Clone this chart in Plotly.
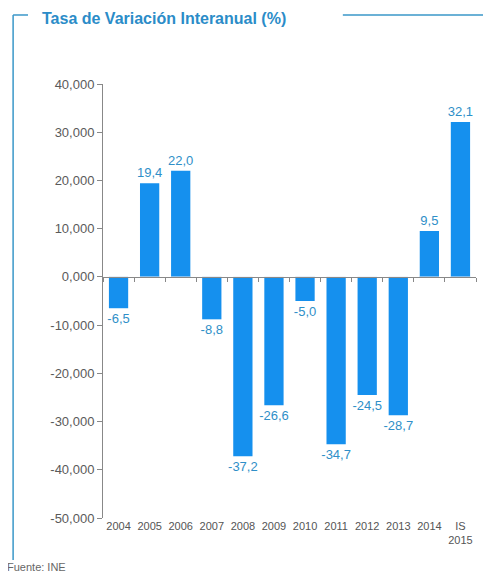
import plotly.graph_objects as go

categories = ["2004", "2005", "2006", "2007", "2008", "2009", "2010",
              "2011", "2012", "2013", "2014", "IS<br>2015"]
values = [-6.5, 19.4, 22.0, -8.8, -37.2, -26.6, -5.0, -34.7, -24.5, -28.7, 9.5, 32.1]
value_labels = ["-6,5", "19,4", "22,0", "-8,8", "-37,2", "-26,6", "-5,0",
                "-34,7", "-24,5", "-28,7", "9,5", "32,1"]
y_ticks = [40, 30, 20, 10, 0, -10, -20, -30, -40, -50]
y_tick_labels = ["40,000", "30,000", "20,000", "10,000", "0,000", "-10,000",
                 "-20,000", "-30,000", "-40,000", "-50,000"]

FONT = "Arial, Liberation Sans, sans-serif"
BAR = "#1590ee"
LABEL = "#2f8fc8"
FRAME = "#3a97c9"

fig = go.Figure()

fig.add_trace(go.Bar(
    x=categories, y=values,
    text=value_labels, textposition="outside", constraintext="none",
    textfont=dict(family=FONT, size=13, color=LABEL),
    marker=dict(color=BAR, line=dict(width=0)),
    width=0.62, cliponaxis=False, showlegend=False,
))

# invisible trace carrying the zero-line axis with boundary ticks
fig.add_trace(go.Bar(x=categories, y=[0] * len(categories), xaxis="x2",
                     showlegend=False, hoverinfo="skip"))

y_lo, y_hi = -50, 40
zero_pos = (0 - y_lo) / (y_hi - y_lo)

fig.update_layout(
    width=491, height=576,
    margin=dict(l=95, r=23, t=76, b=66),
    paper_bgcolor="white", plot_bgcolor="white",
    font=dict(family=FONT, color="#555555"),
    xaxis=dict(
        showline=False, ticks="", showgrid=False,
        tickfont=dict(size=11, color="#555555"),
        tickangle=0,
    ),
    xaxis2=dict(
        overlaying="x", anchor="free", position=zero_pos,
        showline=True, linecolor="#888888", linewidth=1,
        ticks="outside", ticklen=4, tickcolor="#888888", tickson="boundaries",
        showticklabels=False, showgrid=False, matches="x",
    ),
    yaxis=dict(
        range=[y_lo, y_hi], tickvals=y_ticks, ticktext=y_tick_labels,
        showline=True, linecolor="#888888", linewidth=1,
        ticks="outside", ticklen=5, tickcolor="#888888",
        showgrid=False, zeroline=False,
        tickfont=dict(size=13, color="#5a5a5a"),
    ),
    shapes=[
        dict(type="line", xref="paper", yref="paper", x0=-0.241, x1=-0.241,
             y0=-0.097, y1=1.159, line=dict(color=FRAME, width=1.5)),
        dict(type="line", xref="paper", yref="paper", x0=-0.241, x1=-0.201,
             y0=1.159, y1=1.159, line=dict(color=FRAME, width=1.5)),
        dict(type="line", xref="paper", yref="paper", x0=0.643, x1=1.07,
             y0=1.159, y1=1.159, line=dict(color=FRAME, width=1.5)),
    ],
    annotations=[
        dict(text="<b>Tasa de Variación Interanual (%)</b>", xref="paper", yref="paper",
             x=-0.165, y=1.152, xanchor="left", yanchor="middle", showarrow=False,
             font=dict(size=16, color="#2b8cc8", family=FONT), borderpad=0),
        dict(text="Fuente: INE", xref="paper", yref="paper",
             x=-0.262, y=-0.112, xanchor="left", yanchor="middle", showarrow=False,
             font=dict(size=11, color="#666666", family=FONT)),
    ],
    bargap=0.38,
)

fig.write_html("out.html")
